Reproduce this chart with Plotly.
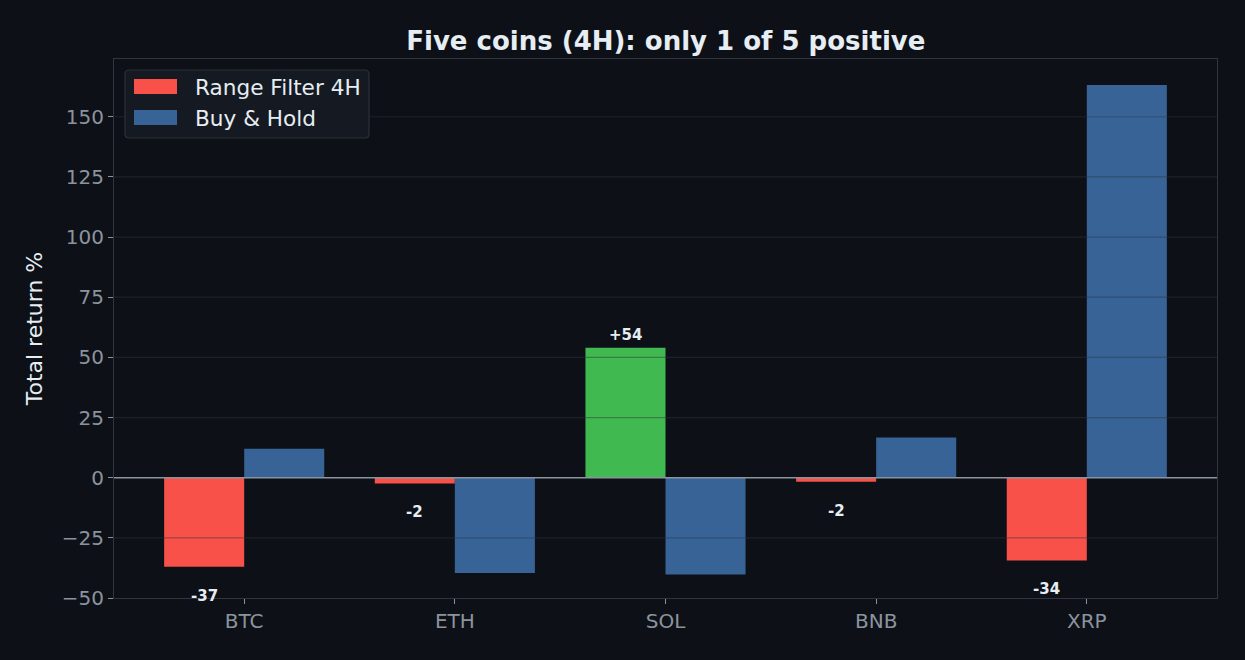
import plotly.graph_objects as go

# ---- data ----
coins = ["BTC", "ETH", "SOL", "BNB", "XRP"]
range_filter = [-37.0, -2.4, 54.0, -1.7, -34.4]
buy_hold = [12.0, -39.6, -40.2, 16.7, 163.2]
rf_labels = ["-37", "-2", "+54", "-2", "-34"]
series_names = ["Range Filter 4H", "Buy & Hold"]
y_ticks = [-50, -25, 0, 25, 50, 75, 100, 125, 150]
title_text = "Five coins (4H): only 1 of 5 positive"
y_title = "Total return %"

# ---- style ----
BG = "#0d1017"
RED = "#f85149"
GREEN = "#3fb950"
BLUE = "#376397"
SPINE = "#30363d"
TICK = "#8b949e"
TEXT = "#e6edf3"
FONT = "DejaVu Sans"
BAR_W = 0.38

rf_colors = [GREEN if v > 0 else RED for v in range_filter]

fig = go.Figure()
fig.add_trace(go.Bar(x=coins, y=range_filter, name=series_names[0],
                     marker=dict(color=rf_colors, line=dict(width=0)),
                     offsetgroup="a", showlegend=False))
fig.add_trace(go.Bar(x=coins, y=buy_hold, name=series_names[1],
                     marker=dict(color=BLUE, line=dict(width=0)),
                     offsetgroup="b", showlegend=False))

# value labels for strategy bars
for i, (v, lab) in enumerate(zip(range_filter, rf_labels)):
    fig.add_annotation(x=i - BAR_W / 2, y=v, xref="x", yref="y", text=f"<b>{lab}</b>",
                       showarrow=False, yanchor="middle",
                       yshift=(-29 if v < 0 else 13),
                       font=dict(family=FONT, size=15, color=TEXT))

shapes = []
# gridlines drawn above bars (as in reference)
for t in y_ticks:
    if t in (-50, 0):
        continue
    shapes.append(dict(type="line", xref="paper", yref="y", x0=0, x1=1, y0=t, y1=t,
                       line=dict(color="rgba(48,54,61,0.45)", width=1.2), layer="above"))
# zero line
shapes.append(dict(type="line", xref="paper", yref="y", x0=0, x1=1, y0=0, y1=0,
                   line=dict(color=TICK, width=1.5), layer="above"))

# custom legend (matplotlib-like wide patches)
def px2x(px):
    return (px - 114) / 1103.0

def px2y(py):
    return (598 - py) / 539.0

lx0, lx1, ly0, ly1 = px2x(125), px2x(369), px2y(138), px2y(70)
rx, ry = 4 / 1103.0, 4 / 539.0
path = (f"M {lx0+rx},{ly0} L {lx1-rx},{ly0} Q {lx1},{ly0} {lx1},{ly0+ry} "
        f"L {lx1},{ly1-ry} Q {lx1},{ly1} {lx1-rx},{ly1} L {lx0+rx},{ly1} "
        f"Q {lx0},{ly1} {lx0},{ly1-ry} L {lx0},{ly0+ry} Q {lx0},{ly0} {lx0+rx},{ly0} Z")
shapes.append(dict(type="path", xref="paper", yref="paper", path=path,
                   fillcolor="#151a22", line=dict(color="#2b3039", width=1.2), layer="above"))
legend_items = [(series_names[0], RED, 79, 94, 87), (series_names[1], BLUE, 110, 125, 118)]
for name, col, ya, yb, yc in legend_items:
    shapes.append(dict(type="rect", xref="paper", yref="paper",
                       x0=px2x(134), x1=px2x(177), y0=px2y(yb), y1=px2y(ya),
                       fillcolor=col, line=dict(width=0), layer="above"))
    fig.add_annotation(xref="paper", yref="paper", x=px2x(193), y=px2y(yc),
                       text=name, showarrow=False, xanchor="left", yanchor="middle",
                       font=dict(family=FONT, size=21.6, color=TEXT))

fig.update_layout(
    width=1245, height=660,
    paper_bgcolor=BG, plot_bgcolor=BG,
    margin=dict(l=114, r=28, t=59, b=62),
    barmode="group", bargap=1 - 2 * BAR_W, bargroupgap=0,
    shapes=shapes,
    font=dict(family=FONT, color=TICK),
    title=dict(text=f"<b>{title_text}</b>", x=0.5348, xanchor="center", y=0.938, yanchor="middle",
               font=dict(family=FONT, size=26, color=TEXT)),
    xaxis=dict(type="category", range=[-0.618, 4.618], showgrid=False, zeroline=False,
               showline=True, linecolor=SPINE, linewidth=1.2, mirror=True,
               ticks="outside", ticklen=5, tickcolor=TICK, tickwidth=1,
               tickfont=dict(family=FONT, size=20, color=TICK)),
    yaxis=dict(range=[-50, 174], tickvals=y_ticks, showgrid=False, zeroline=False,
               showline=True, linecolor=SPINE, linewidth=1.2, mirror=True,
               ticks="outside", ticklen=5, tickcolor=TICK, tickwidth=1,
               tickfont=dict(family=FONT, size=20, color=TICK),
               title=dict(text=y_title, standoff=12, font=dict(family=FONT, size=22, color=TEXT))),
)

fig.write_html("out.html", config={"displayModeBar": False},
               post_script="document.body.style.margin='0';document.body.style.background='#0d1017';")
